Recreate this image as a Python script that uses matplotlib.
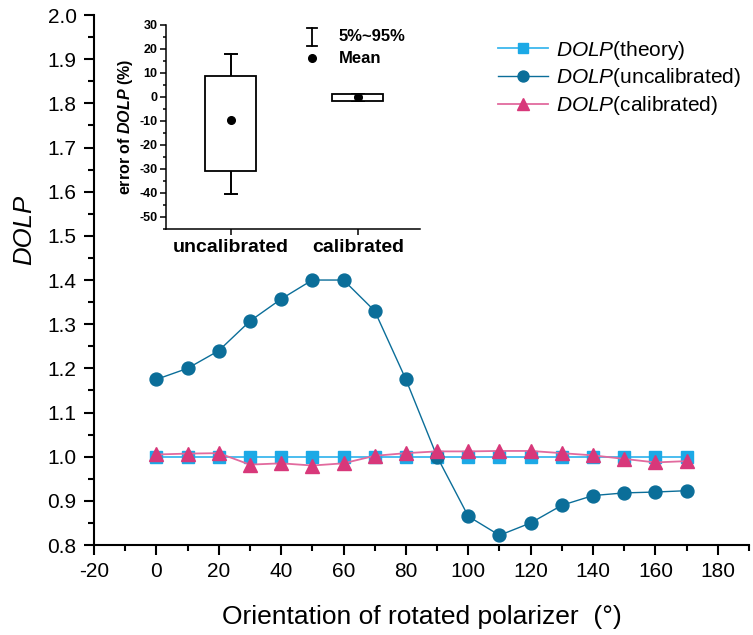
import matplotlib
matplotlib.use("Agg")
import matplotlib.pyplot as plt
from matplotlib.ticker import MultipleLocator, FormatStrFormatter

plt.rcParams['font.family'] = ['Liberation Sans', 'DejaVu Sans']
plt.rcParams['axes.unicode_minus'] = False
plt.rcParams['mathtext.fontset'] = 'custom'
plt.rcParams['mathtext.rm'] = 'Liberation Sans'
plt.rcParams['mathtext.it'] = 'Liberation Sans:italic'
plt.rcParams['mathtext.bf'] = 'Liberation Sans:bold'
plt.rcParams['mathtext.bfit'] = 'Liberation Sans:bold:italic'

angles = [0, 10, 20, 30, 40, 50, 60, 70, 80, 90, 100, 110, 120, 130, 140, 150, 160, 170]
dolp_theory = [1.0] * 18
dolp_uncal = [1.175, 1.20, 1.24, 1.307, 1.357, 1.40, 1.40, 1.33, 1.175, 1.0,
              0.865, 0.822, 0.85, 0.89, 0.912, 0.918, 0.92, 0.923]
dolp_cal = [1.005, 1.007, 1.008, 0.982, 0.985, 0.98, 0.985, 1.002, 1.008, 1.012,
            1.012, 1.013, 1.013, 1.008, 1.003, 0.995, 0.987, 0.99]

box_cats = ['uncalibrated', 'calibrated']
box_q1 = [-31.0, -1.6]
box_q3 = [8.8, 1.2]
box_p5 = [-40.3, -1.5]
box_p95 = [18.0, 1.4]
box_mean = [-9.5, -0.2]

c_theory = '#1CA9E6'
c_theory_line = '#3DB8EE'
c_uncal = '#0B6E99'
c_cal = '#D8387A'
c_cal_line = '#E26A9E'

fig = plt.figure(figsize=(7.53, 6.35), dpi=100)
ax = fig.add_axes([0.1248, 0.1417, 0.8699, 0.8346])

ax.plot(angles, dolp_theory, color=c_theory_line, lw=1.3, marker='s', ms=8.3,
        mec=c_theory, mfc=c_theory, label=r'$\mathit{DOLP}$(theory)', zorder=3)
ax.plot(angles, dolp_uncal, color=c_uncal, lw=1.0, marker='o', ms=9.3,
        mec=c_uncal, mfc=c_uncal, label=r'$\mathit{DOLP}$(uncalibrated)', zorder=4)
ax.plot(angles, dolp_cal, color=c_cal_line, lw=1.3, marker='^', ms=10,
        mec=c_cal, mfc=c_cal, label=r'$\mathit{DOLP}$(calibrated)', zorder=5)

ax.set_xlim(-20, 190)
ax.set_ylim(0.8, 2.0)
ax.xaxis.set_major_locator(MultipleLocator(20))
ax.xaxis.set_minor_locator(MultipleLocator(10))
ax.yaxis.set_major_locator(MultipleLocator(0.1))
ax.yaxis.set_minor_locator(MultipleLocator(0.05))
ax.yaxis.set_major_formatter(FormatStrFormatter('%.1f'))
ax.xaxis.set_major_formatter(FormatStrFormatter('%d'))
for s in ['top', 'right']:
    ax.spines[s].set_visible(False)
for s in ['left', 'bottom']:
    ax.spines[s].set_linewidth(1.5)
ax.tick_params(which='major', direction='out', length=7.5, width=1.5, labelsize=15, pad=5)
ax.tick_params(which='minor', direction='out', length=4.5, width=1.5)
ax.set_xlabel('Orientation of rotated polarizer  (°)', fontsize=19, labelpad=17)
ax.set_ylabel('DOLP', fontsize=18.5, style='italic')
ax.yaxis.set_label_coords(-0.088, 0.594)

leg = fig.legend(handles=ax.get_lines(), loc='upper left',
                 bbox_to_anchor=(0.661, 0.939), frameon=False,
                 fontsize=15, handlelength=2.4, handletextpad=0.38, labelspacing=0.22,
                 borderaxespad=0, borderpad=0, markerscale=0.85)

# inset box chart
ins = fig.add_axes([0.2205, 0.6394, 0.3373, 0.3213])
pos = [1, 2]
bw = 0.4
for p, q1, q3, lo, hi, m in zip(pos, box_q1, box_q3, box_p5, box_p95, box_mean):
    ins.add_patch(plt.Rectangle((p - bw / 2, q1), bw, q3 - q1, fill=True,
                                facecolor='white', edgecolor='black', lw=1.3, zorder=2))
    ins.plot([p, p], [q3, hi], color='black', lw=1.4, zorder=1)
    ins.plot([p, p], [q1, lo], color='black', lw=1.4, zorder=1)
    ins.plot([p - 0.045, p + 0.045], [hi, hi], color='black', lw=1.4, zorder=1)
    ins.plot([p - 0.045, p + 0.045], [lo, lo], color='black', lw=1.4, zorder=1)
    ins.plot([p], [m], marker='o', ms=5.5, color='black', zorder=3)

ins.set_xlim(0.49, 2.49)
ins.set_ylim(-55, 30)
ins.yaxis.set_major_locator(MultipleLocator(10))
ins.yaxis.set_minor_locator(MultipleLocator(5))
ins.yaxis.set_major_formatter(FormatStrFormatter('%d'))
for s in ['top', 'right']:
    ins.spines[s].set_visible(False)
for s in ['left', 'bottom']:
    ins.spines[s].set_linewidth(1.1)
ins.tick_params(which='major', direction='out', length=4, width=1.1, labelsize=9, pad=2)
ins.tick_params(which='minor', direction='out', length=2.5, width=1.1)
ins.tick_params(axis='x', which='major', pad=3, labelsize=14)
ins.set_xticks(pos)
ins.set_xticklabels(box_cats, fontsize=14, fontweight='bold')
for lab in ins.get_yticklabels():
    lab.set_fontweight('bold')
ins.set_ylabel(r'error of $\mathbfit{DOLP}$ (%)', fontsize=11.5, fontweight='bold', labelpad=3)

# inset key (5%~95% range symbol and mean symbol)
kx, ktx = 0.575, 0.68
ins.plot([kx, kx], [0.897, 0.985], transform=ins.transAxes, color='black', lw=1.3, clip_on=False)
ins.plot([kx - 0.02, kx + 0.02], [0.985, 0.985], transform=ins.transAxes, color='black', lw=1.3, clip_on=False)
ins.plot([kx - 0.02, kx + 0.02], [0.897, 0.897], transform=ins.transAxes, color='black', lw=1.3, clip_on=False)
ins.plot([kx], [0.838], transform=ins.transAxes, marker='o', ms=5.5, color='black', clip_on=False)
ins.text(ktx, 0.941, '5%~95%', transform=ins.transAxes, fontsize=12, fontweight='bold', va='center', ha='left')
ins.text(ktx, 0.838, 'Mean', transform=ins.transAxes, fontsize=12, fontweight='bold', va='center', ha='left')

fig.savefig('out.png', dpi=100)
